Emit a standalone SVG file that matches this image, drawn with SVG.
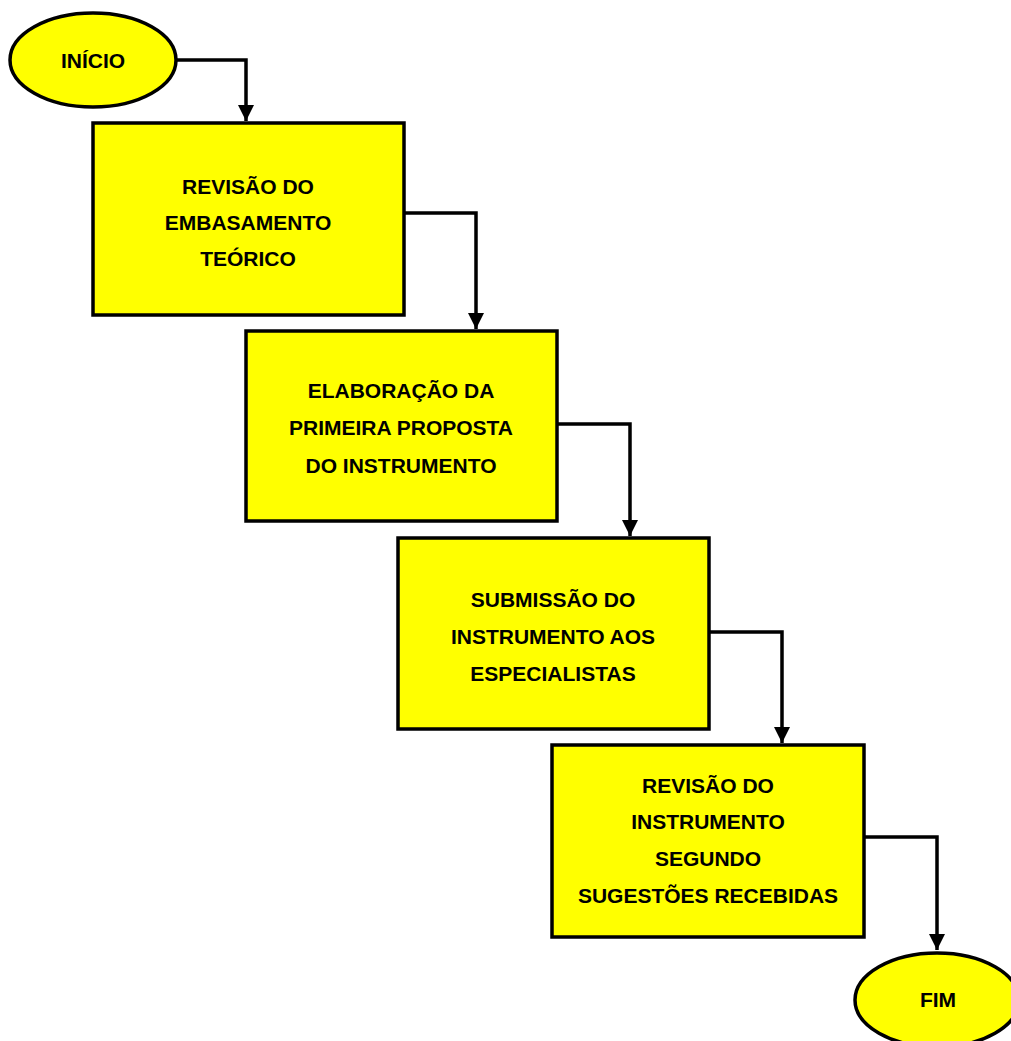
<svg xmlns="http://www.w3.org/2000/svg" width="1011" height="1041" viewBox="0 0 1011 1041">
<defs>
<style>
.n{fill:#ffff00;stroke:#000;stroke-width:3.5}
.t{font-family:"Liberation Sans",Arial,sans-serif;font-weight:bold;font-size:21px;fill:#000;text-anchor:middle}
.c{fill:none;stroke:#000;stroke-width:3.5}
</style>
<marker id="ah" markerWidth="16" markerHeight="16" viewBox="0 0 16 16" refX="16" refY="8" orient="auto" markerUnits="userSpaceOnUse">
<path d="M0,0 L16,8 L0,16 Z" fill="#000"/>
</marker>
</defs>
<rect width="1011" height="1041" fill="#fff"/>
<g id="connectors">
<path class="c" d="M176,60 H246 V121" marker-end="url(#ah)"/>
<path class="c" d="M404,213 H476 V329" marker-end="url(#ah)"/>
<path class="c" d="M557,424 H630 V536" marker-end="url(#ah)"/>
<path class="c" d="M709,632 H782 V743" marker-end="url(#ah)"/>
<path class="c" d="M864,837 H937 V950" marker-end="url(#ah)"/>
</g>
<g id="inicio">
<ellipse class="n" cx="93" cy="60" rx="83" ry="47"/>
<text class="t" x="93" y="68">INÍCIO</text>
</g>
<g id="revisao-embasamento">
<rect class="n" x="93" y="123" width="311" height="192"/>
<text class="t" x="248" y="194">REVISÃO DO</text>
<text class="t" x="248" y="230">EMBASAMENTO</text>
<text class="t" x="248" y="266">TEÓRICO</text>
</g>
<g id="elaboracao">
<rect class="n" x="246" y="331" width="311" height="190"/>
<text class="t" x="401" y="398">ELABORAÇÃO DA</text>
<text class="t" x="401" y="435">PRIMEIRA PROPOSTA</text>
<text class="t" x="401" y="473">DO INSTRUMENTO</text>
</g>
<g id="submissao">
<rect class="n" x="398" y="538" width="311" height="191"/>
<text class="t" x="553" y="607">SUBMISSÃO DO</text>
<text class="t" x="553" y="644">INSTRUMENTO AOS</text>
<text class="t" x="553" y="681">ESPECIALISTAS</text>
</g>
<g id="revisao-instrumento">
<rect class="n" x="552" y="745" width="312" height="192"/>
<text class="t" x="708" y="793">REVISÃO DO</text>
<text class="t" x="708" y="829">INSTRUMENTO</text>
<text class="t" x="708" y="866">SEGUNDO</text>
<text class="t" x="708" y="903">SUGESTÕES RECEBIDAS</text>
</g>
<g id="fim">
<ellipse class="n" cx="937" cy="1000" rx="82" ry="47"/>
<text class="t" x="938" y="1007">FIM</text>
</g>
</svg>
